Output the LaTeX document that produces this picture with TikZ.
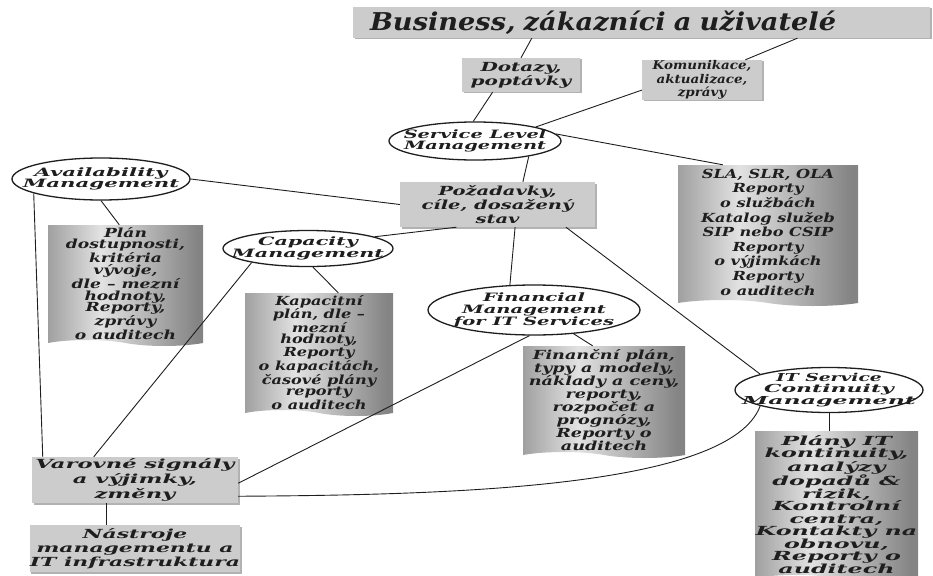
\documentclass[tikz,border=0pt]{standalone}
\usepackage{fontspec}
\newfontfamily\dfont{DejaVu Serif}
\usetikzlibrary{shapes.geometric,shapes.symbols,calc,shadows}

% bold italic serif, size / baseline skip / horizontal stretch
\newcommand\tf[3]{\dfont\bfseries\itshape\addfontfeatures{FakeStretch=#3}\fontsize{#1}{#2}\selectfont}

\definecolor{boxgray}{RGB}{204,204,204}
\definecolor{docA}{RGB}{160,160,160}
\definecolor{docB}{RGB}{226,226,226}
\definecolor{docC}{RGB}{132,132,132}
\definecolor{ink}{RGB}{30,30,30}

% left-to-right shading for the report sheets: light band left of centre
\pgfdeclarehorizontalshading{docshade}{100bp}{color(0bp)=(docA); color(25bp)=(docA); color(42bp)=(docB); color(73bp)=(docC); color(100bp)=(docC)}

\begin{document}
\begin{tikzpicture}[x=1pt,y=-1pt,
  txt/.style={align=center, text=ink},
  box/.style={txt, fill=boxgray, inner sep=0pt,
    drop shadow={shadow xshift=1.5pt, shadow yshift=-1.5pt, fill=black, opacity=.3}},
  ell/.style={txt, ellipse, draw=ink, line width=1.3pt, fill=white, inner sep=-30pt},
  doc/.style={tape, tape bend top=none, tape bend bottom=out and in,
    tape bend height=6pt, shading=docshade, draw=none, inner sep=0pt},
  dtext/.style={txt, anchor=north, inner sep=0pt},
  conn/.style={draw=ink, line width=0.9pt}
]
\useasboundingbox (0,0) rectangle (933,575);

% ---- rectangular boxes
\node[box, text width=543pt, inner xsep=17pt, minimum height=31pt, align=left,
  font=\tf{24.5}{26}{1.11}] (title) at (641.5,22.5)
  {Business, zákazníci a uživatelé};
\node[box, minimum width=118pt, minimum height=34pt, font=\tf{12.5}{14}{1.6}] (dotaz) at (521,75) {Dotazy,\\poptávky};
\node[box, minimum width=120pt, minimum height=40pt, font=\tf{12}{13.3}{1.12}] (komun) at (702,80) {Komunikace,\\aktualizace,\\zprávy};
\node[box, minimum width=195pt, minimum height=45pt, font=\tf{12.5}{14.2}{1.56}] (pozad) at (497.5,204.5) {Požadavky,\\cíle, dosažený\\stav};
\node[box, minimum width=206pt, minimum height=46pt, font=\tf{12.5}{15}{1.81}] (varov) at (135,480) {Varovné signály\\a výjimky,\\změny};
\node[box, minimum width=206pt, minimum height=47pt, font=\tf{12.5}{14}{1.75}] (nastr) at (135,548.5) {Nástroje\\managementu a\\IT infrastruktura};

% ---- processes
\node[ell, minimum width=172pt, minimum height=38pt, font=\tf{11.5}{11.7}{1.68}] (slm) at (475,141) {Service Level\\Management};
\node[ell, minimum width=178pt, minimum height=42pt, font=\tf{11.5}{11.5}{1.85}] (avail) at (101,179) {Availability\\Management};
\node[ell, minimum width=170pt, minimum height=36pt, font=\tf{11.5}{11.5}{1.80}] (cap) at (308,248.5) {Capacity\\Management};
\node[ell, minimum width=212pt, minimum height=50pt, font=\tf{11.5}{12}{1.70}] (fin) at (534,310) {Financial\\Management\\for IT Services};
\node[ell, minimum width=188pt, minimum height=45pt, font=\tf{11}{11.3}{2.15}] (itscm) at (829,390)
  {{\addfontfeatures{FakeStretch=1.7}IT Service}\\{\addfontfeatures{FakeStretch=2.0}Continuity}\\Management};

% ---- report sheets
\node[doc, minimum width=180pt, minimum height=141pt] (sla) at (768,232.5) {};
\node[dtext, font=\tf{12.5}{14.6}{1.29}] (slatxt) at ([yshift=-4pt]sla.north)
  {SLA, SLR, OLA\\Reporty\\o službách\\Katalog služeb\\SIP nebo CSIP\\Reporty\\o výjimkách\\Reporty\\o auditech};
\node[doc, minimum width=155pt, minimum height=121pt] (availdoc) at (125.5,282.5) {};
\node[dtext, font=\tf{12.5}{11.9}{1.37}] (availtxt) at ([yshift=-2pt]availdoc.north)
  {Plán\\dostupnosti,\\kritéria\\vývoje,\\dle – mezní\\hodnoty,\\Reporty,\\zprávy\\o auditech};
\node[doc, minimum width=148pt, minimum height=123pt] (capdoc) at (319,351.5) {};
\node[dtext, font=\tf{12.5}{11.7}{1.29}] (captxt) at ([yshift=-2pt]capdoc.north)
  {Kapacitní\\plán, dle –\\mezní\\hodnoty,\\Reporty\\o kapacitách,\\časové plány\\reporty\\o auditech};
\node[doc, minimum width=162pt, minimum height=112pt] (findoc) at (604,399) {};
\node[dtext, font=\tf{12.5}{13}{1.41}] (fintxt) at ([yshift=-3pt]findoc.north)
  {Finanční plán,\\typy a modely,\\náklady a ceny,\\reporty,\\rozpočet a\\prognózy,\\Reporty o\\auditech};
\node[doc, minimum width=163pt, minimum height=150pt] (itsdoc) at (836.5,503) {};
\node[dtext, font=\tf{12.5}{12.5}{1.9}] (itstxt) at ([yshift=-4pt]itsdoc.north)
  {Plány IT\\kontinuity,\\analýzy\\dopadů \&\\rizik,\\Kontrolní\\centra,\\Kontakty na\\obnovu,\\Reporty o\\auditech};

% ---- connectors
\draw[conn] ($(title.south west)!.31!(title.south east)$) -- (dotaz.north);
\draw[conn] ($(title.south west)!.77!(title.south east)$) -- ($(komun.north west)!.86!(komun.north east)$);
\draw[conn] ($(dotaz.south west)!.26!(dotaz.south east)$) -- (slm.95);
\draw[conn] ($(komun.south west)!.25!(komun.north west)$) -- (slm.13);
\draw[conn] (slm.-16) -- ($(pozad.north west)!.63!(pozad.north east)$);
\draw[conn] (slm.5) -- ($(sla.north west)!.25!(sla.north east)$);
\draw[conn] (avail.east) -- (pozad.west);
\draw[conn] (avail.192) -- ($(varov.north west)!.053!(varov.north east)$);
\draw[conn] (avail.south) -- ($(availdoc.north west)!.46!(availdoc.north east)$);
\draw[conn] ($(pozad.south west)!.29!(pozad.south east)$) -- (cap.10);
\draw[conn] (cap.194) -- ($(varov.north west)!.30!(varov.north east)$);
\draw[conn] (cap.-75) -- ($(capdoc.north west)!.63!(capdoc.north east)$);
\draw[conn] ($(pozad.south west)!.59!(pozad.south east)$) -- (fin.134);
\draw[conn] ($(pozad.south west)!.85!(pozad.south east)$) -- (itscm.167);
\draw[conn] (fin.-100) -- ($(varov.south east)!.43!(varov.north east)$);
\draw[conn] (fin.-31) -- ($(findoc.north west)!.43!(findoc.north east)$);
\draw[conn] ($(varov.south east)!.15!(varov.north east)$) .. controls (450,495) and (730,488) .. (itscm.193);
\draw[conn] (itscm.south) -- (itscm.south |- itsdoc.north);
\draw[conn] ($(varov.south west)!.36!(varov.south east)$) coordinate (vn) -- (vn |- nastr.north);
\end{tikzpicture}
\end{document}
